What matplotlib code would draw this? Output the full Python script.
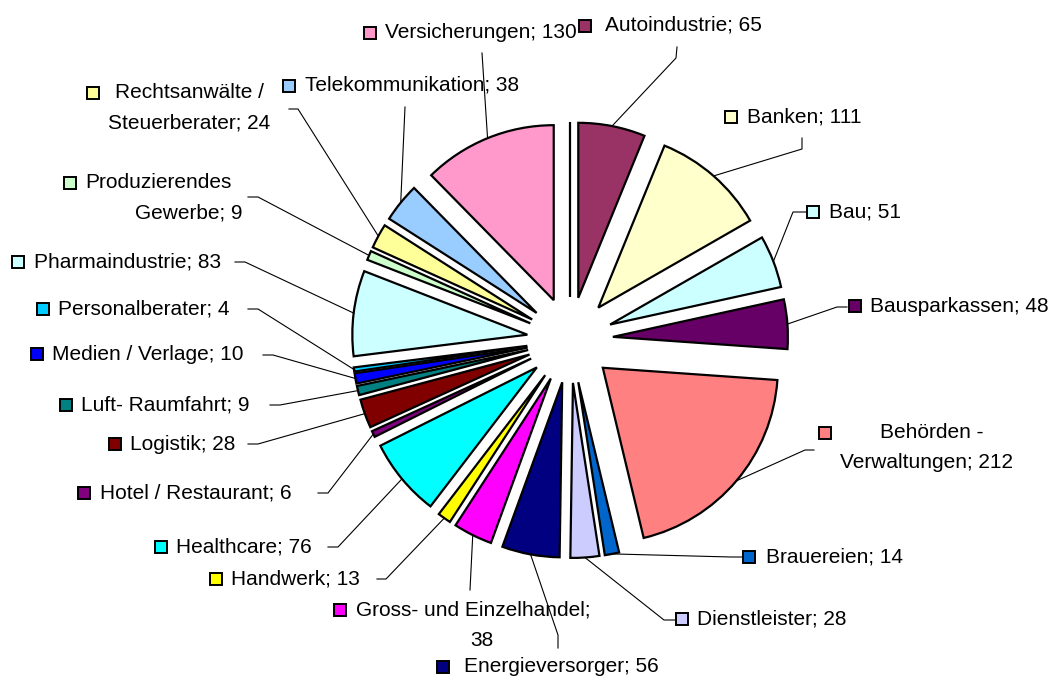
import numpy as np
import matplotlib.pyplot as plt

plt.rcParams["font.family"] = ["Liberation Sans", "DejaVu Sans"]

# =====================================================
# Daten (Reihenfolge im Uhrzeigersinn ab 12 Uhr)
# =====================================================
branchen = [
    "Autoindustrie", "Banken", "Bau", "Bausparkassen", "Behörden - Verwaltungen",
    "Brauereien", "Dienstleister", "Energieversorger", "Gross- und Einzelhandel",
    "Handwerk", "Healthcare", "Hotel / Restaurant", "Logistik", "Luft- Raumfahrt",
    "Medien / Verlage", "Personalberater", "Pharmaindustrie", "Produzierendes Gewerbe",
    "Rechtsanwälte / Steuerberater", "Telekommunikation", "Versicherungen", "",
]
anzahl = [65, 111, 51, 48, 212, 14, 28, 56, 38, 13, 76, 6, 28, 9, 10, 4, 83, 9, 24, 38, 130, 0]
farben = [
    "#993366", "#FFFFCC", "#CCFFFF", "#660066", "#FF8080", "#0066CC", "#CCCCFF",
    "#000080", "#FF00FF", "#FFFF00", "#00FFFF", "#800080", "#800000", "#008080",
    "#0000FF", "#00CCFF", "#CCFFFF", "#CCFFCC", "#FFFF99", "#99CCFF", "#FF99CC", "#FFFFFF",
]

# =====================================================
# Layout der Beschriftungen (Pixel, y von oben)
# box = Farbkästchen, zeilen = Textzeilen, linie = Knickpunkte der Führungslinie
# =====================================================
layout = {
    "Autoindustrie": dict(box=(585, 26), zeilen=[(605, 25)], linie=[(676, 58), (677, 47)]),
    "Banken": dict(box=(731, 117), zeilen=[(747, 117)], linie=[(802, 149), (802, 138)]),
    "Bau": dict(box=(813, 212), zeilen=[(829, 212)], linie=[(793, 212), (806, 212)]),
    "Bausparkassen": dict(box=(855, 306), zeilen=[(870, 306)], linie=[(837, 307), (847, 307)]),
    "Behörden - Verwaltungen": dict(box=(825, 433), zeilen=[(880, 433), (840, 463)],
                                    umbruch="- ", linie=[(805, 450), (814, 450)]),
    "Brauereien": dict(box=(749, 557), zeilen=[(766, 557)], linie=[(731, 557), (742, 557)]),
    "Dienstleister": dict(box=(682, 619), zeilen=[(697, 619)], linie=[(664, 620), (675, 620)]),
    "Energieversorger": dict(box=(443, 667), zeilen=[(464, 667)], linie=[(558, 635), (558, 648)]),
    "Gross- und Einzelhandel": dict(box=(340, 610), zeilen=[(356, 610), (470, 640)],
                                    umbruch="; ", linie=[(470, 590)]),
    "Handwerk": dict(box=(216, 579), zeilen=[(231, 579)], linie=[(386, 579), (377, 579)]),
    "Healthcare": dict(box=(161, 547), zeilen=[(176, 547)], linie=[(338, 547), (328, 547)]),
    "Hotel / Restaurant": dict(box=(84, 493), zeilen=[(100, 493)], linie=[(328, 493), (318, 493)]),
    "Logistik": dict(box=(115, 444), zeilen=[(130, 444)], linie=[(258, 444), (248, 444)]),
    "Luft- Raumfahrt": dict(box=(66, 405), zeilen=[(81, 405)], linie=[(280, 405), (270, 405)]),
    "Medien / Verlage": dict(box=(37, 354), zeilen=[(52, 354)], linie=[(273, 355), (263, 355)]),
    "Personalberater": dict(box=(43, 309), zeilen=[(58, 309)], linie=[(258, 309), (248, 309)]),
    "Pharmaindustrie": dict(box=(18, 262), zeilen=[(34, 262)], linie=[(245, 262), (235, 262)]),
    "Produzierendes Gewerbe": dict(box=(70, 183), zeilen=[(85, 183), (135, 213)],
                                   umbruch="Produzierendes ", linie=[(258, 197), (248, 197)]),
    "Rechtsanwälte / Steuerberater": dict(box=(93, 93), zeilen=[(115, 92), (108, 123)],
                                          umbruch="/ ", linie=[(298, 109), (289, 109)]),
    "Telekommunikation": dict(box=(289, 86), zeilen=[(305, 85)], linie=[(405, 107)]),
    "Versicherungen": dict(box=(370, 33), zeilen=[(385, 32)], linie=[(482, 53)]),
}

# =====================================================
# Kreisdiagramm (explodiert)
# =====================================================
fig = plt.figure(figsize=(10.64, 6.77), dpi=100)
ax = fig.add_axes([0, 0, 1, 1])

# y-Achse umgedreht -> startangle=-90 + gegen den Uhrzeigersinn = Uhrzeigersinn ab 12 Uhr
wedges, _ = ax.pie(
    anzahl,
    colors=farben,
    radius=175,
    center=(570, 340),
    explode=[43] * len(anzahl),
    startangle=-90,
    counterclock=True,
    wedgeprops=dict(edgecolor="black", linewidth=1.6),
)
ax.set_xlim(0, 1064)
ax.set_ylim(677, 0)
ax.set_aspect("auto")
ax.axis("off")

for w, name, wert, farbe in zip(wedges, branchen, anzahl, farben):
    if name not in layout:
        continue
    lay = layout[name]
    # Führungslinie ab Mitte des Kreisbogens
    tm = np.deg2rad((w.theta1 + w.theta2) / 2)
    x0 = w.center[0] + w.r * np.cos(tm)
    y0 = w.center[1] + w.r * np.sin(tm)
    pts = [(x0, y0)] + lay["linie"]
    ax.plot([p[0] for p in pts], [p[1] for p in pts], color="black", lw=0.8)

    # Farbkästchen
    ax.plot(*lay["box"], marker="s", ms=9, mfc=farbe, mec="black", mew=1.4)

    # Text
    text = f"{name}; {wert}"
    if "umbruch" in lay:
        k = text.index(lay["umbruch"]) + len(lay["umbruch"])
        zeilen = [text[:k].strip(), text[k:].strip()]
    else:
        zeilen = [text]
    for z, (tx, ty) in zip(zeilen, lay["zeilen"]):
        ax.text(tx, ty, z, fontsize=15, ha="left", va="center", color="black")

plt.savefig("out.png", dpi=100)
plt.close()
